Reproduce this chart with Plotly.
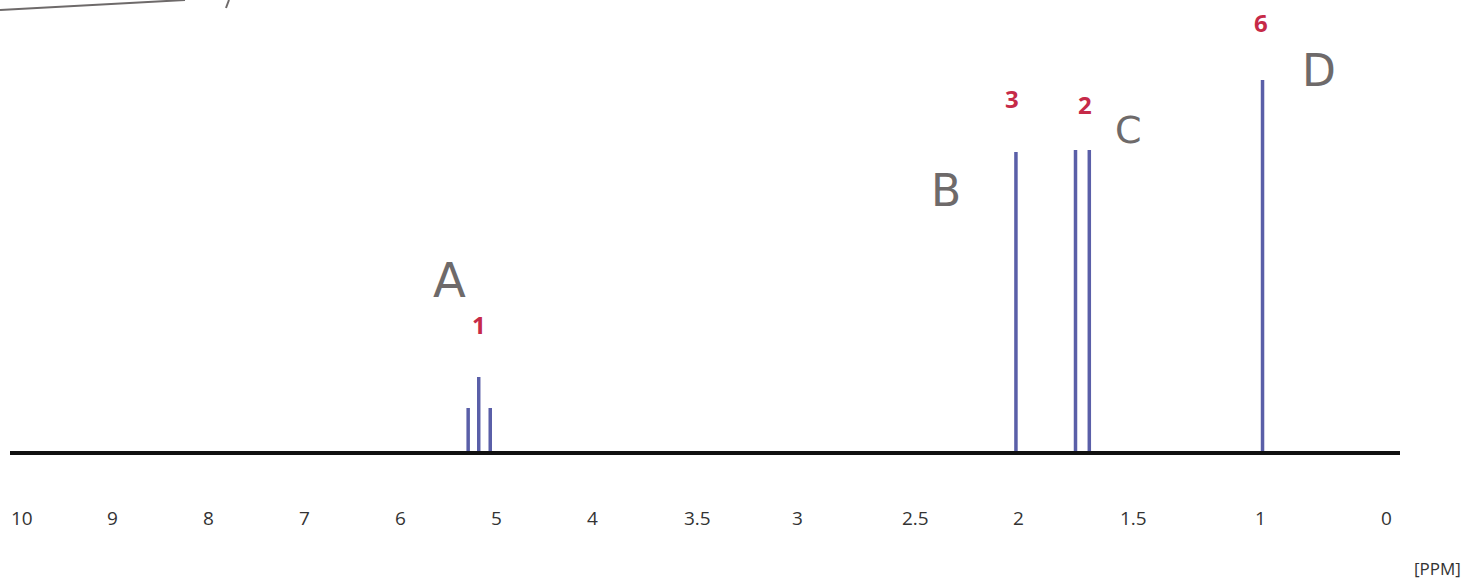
import numpy as np
import plotly.graph_objects as go

# ---- data ----
tick_ppm = [10, 9, 8, 7, 6, 5, 4, 3.5, 3, 2.5, 2, 1.5, 1, 0]
tick_labels = ["10", "9", "8", "7", "6", "5", "4", "3.5", "3", "2.5", "2", "1.5", "1", "0"]

peak_ppm = [5.29, 5.18, 5.06, 2.01, 1.75, 1.69, 0.98]
peak_intensity = [44, 75, 44, 300, 302, 302, 372]

group_ppm = [5.18, 2.03, 1.71, 0.99]
group_integration = ["1", "3", "2", "6"]
group_label_height = [128, 354, 348, 430]

hand_letters = ["A", "B", "C", "D"]
hand_ppm = [5.48, 2.35, 1.52, 0.53]
hand_height = [172, 262, 322, 382]
hand_size = [48, 44, 38, 44]

# ---- layout: the printed axis is not linear, so ticks sit at fixed positions ----
tick_pos = [22, 112, 208, 304, 400, 496, 592, 697, 797, 915, 1018, 1133, 1260, 1386]
_tp = np.array(tick_ppm[::-1], dtype=float)
_tx = np.array(tick_pos[::-1], dtype=float)


def ppm_to_axis(v):
    return np.interp(v, _tp, _tx)


PEAK_COLOR = "#5a5fa8"
RED = "#c62a48"
GRAY = "#6e6a6a"

xs, ys = [], []
for p, h in zip(peak_ppm, peak_intensity):
    x = float(ppm_to_axis(p))
    xs += [x, x, None]
    ys += [0, h, None]

fig = go.Figure()
fig.add_trace(go.Scatter(x=xs, y=ys, mode="lines",
                         line=dict(color=PEAK_COLOR, width=3.5),
                         hoverinfo="skip", showlegend=False))

# baseline
fig.add_shape(type="line", xref="x", yref="y", x0=10, x1=1400, y0=-1, y1=-1,
              line=dict(color="#111111", width=4), layer="above")

annotations = []
for p, t, h in zip(group_ppm, group_integration, group_label_height):
    annotations.append(dict(x=float(ppm_to_axis(p)), y=h, text="<b>%s</b>" % t, showarrow=False,
                            xref="x", yref="y",
                            font=dict(family="Open Sans", size=24, color=RED)))
for p, t, h, s in zip(hand_ppm, hand_letters, hand_height, hand_size):
    annotations.append(dict(x=float(ppm_to_axis(p)), y=h, text=t, showarrow=False,
                            xref="x", yref="y",
                            font=dict(family="DejaVu Sans ExtraLight, DejaVu Sans", size=s, color=GRAY)))
# tick labels
for v, lab in zip(tick_pos, tick_labels):
    annotations.append(dict(x=v, y=-66, text=lab, showarrow=False, xref="x", yref="y",
                            font=dict(family="Open Sans", size=19, color="#333333")))
annotations.append(dict(x=1437, y=-116, text="[PPM]", showarrow=False, xref="x", yref="y",
                        font=dict(family="Open Sans", size=17, color="#333333")))

# stray pen stroke at top-left
fig.add_shape(type="path", xref="x", yref="y",
              path="M 0,442 Q 100,447 185,452",
              line=dict(color=GRAY, width=2))
fig.add_shape(type="line", xref="x", yref="y", x0=226, x1=229, y0=444, y1=452,
              line=dict(color=GRAY, width=2))

fig.update_layout(
    width=1470, height=582,
    margin=dict(l=0, r=0, t=0, b=0),
    paper_bgcolor="white", plot_bgcolor="white",
    annotations=annotations,
    xaxis=dict(range=[0, 1470], visible=False, fixedrange=True),
    yaxis=dict(range=[-130, 452], visible=False, fixedrange=True),
    showlegend=False,
)

fig.write_html("out.html", config={"displayModeBar": False},
               post_script="document.body.style.margin='0';document.body.style.overflow='hidden';")
